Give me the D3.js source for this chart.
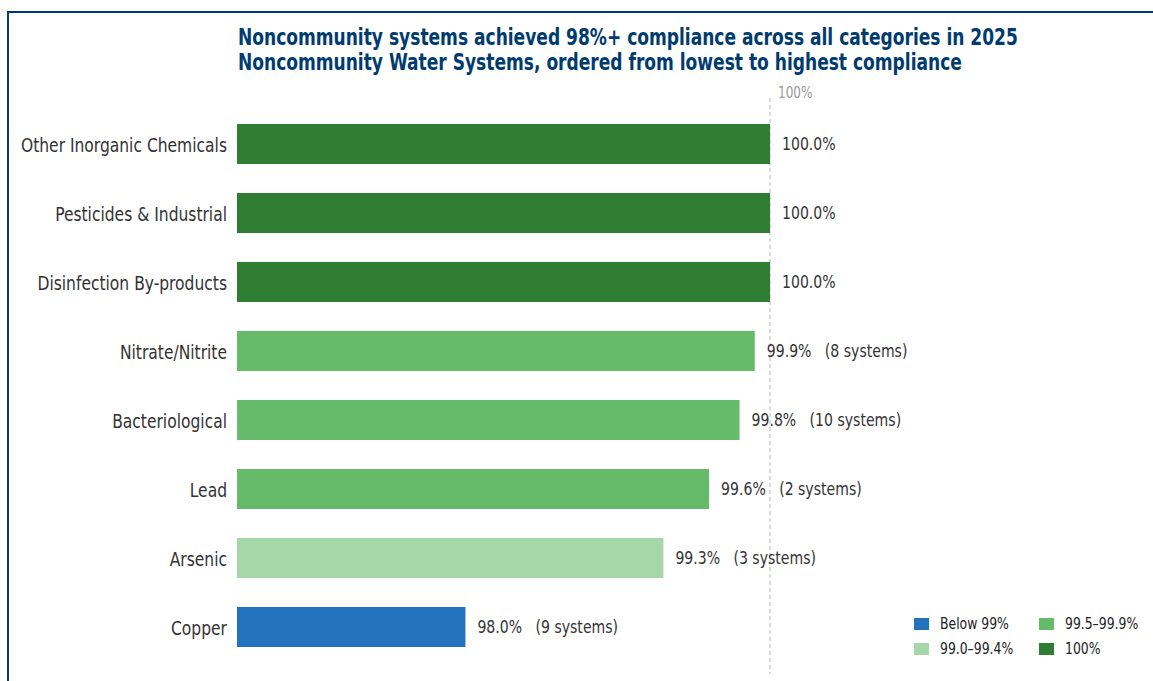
<!DOCTYPE html>
<html>
<head>
<meta charset="utf-8">
<script src="https://cdn.jsdelivr.net/npm/d3@7"></script>
<style>
  html, body { margin: 0; padding: 0; overflow: hidden; background: #fff; }
  .frame { position: absolute; left: 7px; top: 11px; width: 1300px; height: 900px; border: 2px solid #003b6f; box-sizing: border-box; }
  svg { position: absolute; left: 0; top: 0; }
  svg text { font-family: "DejaVu Sans Condensed", "DejaVu Sans", sans-serif; }
</style>
</head>
<body>
<div class="frame"></div>
<svg id="chart" width="1153" height="681"></svg>
<script>
// data, ordered top to bottom as drawn
const categories = ["Other Inorganic Chemicals", "Pesticides & Industrial", "Disinfection By-products",
  "Nitrate/Nitrite", "Bacteriological", "Lead", "Arsenic", "Copper"];
const compliance = [100.0, 100.0, 100.0, 99.9, 99.8, 99.6, 99.3, 98.0];
const violations = [0, 0, 0, 8, 10, 2, 3, 9];
const legendLabels = ["Below 99%", "99.0–99.4%", "99.5–99.9%", "100%"];
const legendColors = ["#2372be", "#a6d7a8", "#66bb6a", "#2e7d32"];

function colorFor(v) {
  if (v >= 100) return legendColors[3];
  if (v >= 99.5) return legendColors[2];
  if (v >= 99.0) return legendColors[1];
  return legendColors[0];
}

// the reference face is narrower still, so squeeze horizontally around the anchor x
function squeeze(sel, k) {
  sel.attr("transform", function () {
    const x0 = +this.getAttribute("x") || 0;
    return `translate(${x0 * (1 - k)},0) scale(${k},1)`;
  });
}

const svg = d3.select("#chart");

const x = d3.scaleLinear().domain([96.5, 100]).range([237, 770]);
const y = d3.scaleBand().domain(categories).range([109.5, 661.5]).paddingInner(0.42).paddingOuter(0.21);

// titles
const titles = svg.append("g").attr("fill", "#003b6f").attr("font-weight", "bold").attr("font-size", 23);
titles.append("text").attr("x", 238).attr("y", 45)
  .text("Noncommunity systems achieved 98%+ compliance across all categories in 2025");
titles.append("text").attr("x", 238).attr("y", 70)
  .text("Noncommunity Water Systems, ordered from lowest to highest compliance");
squeeze(titles.selectAll("text"), 0.825);

// 100% reference line
svg.append("line")
  .attr("x1", x(100)).attr("x2", x(100)).attr("y1", 98).attr("y2", 674)
  .attr("stroke", "#b5b5b5").attr("stroke-width", 1).attr("stroke-dasharray", "4,3");
svg.append("text").attr("x", x(100) + 8).attr("y", 98)
  .attr("fill", "#9a9a9a").attr("font-size", 15).text("100%")
  .call(squeeze, 0.895);

// bars
svg.append("g").selectAll("rect")
  .data(categories)
  .join("rect")
  .attr("x", x(96.5))
  .attr("y", d => y(d))
  .attr("width", (d, i) => x(compliance[i]) - x(96.5))
  .attr("height", y.bandwidth())
  .attr("fill", (d, i) => colorFor(compliance[i]));

// category labels
const yAxis = svg.append("g").attr("transform", "translate(237,0)")
  .call(d3.axisLeft(y).tickSize(0).tickPadding(10));
yAxis.select(".domain").remove();
yAxis.attr("font-family", null);
yAxis.selectAll("text").attr("font-size", 19.5).attr("fill", "#333").attr("dy", "0.4em");
squeeze(yAxis.selectAll("text"), 0.885);

// value labels
const values = svg.append("g").selectAll("text")
  .data(categories)
  .join("text")
  .attr("x", (d, i) => x(compliance[i]) + 12)
  .attr("y", d => y(d) + y.bandwidth() / 2)
  .attr("dy", "0.35em")
  .attr("font-size", 17).attr("fill", "#333")
  .style("white-space", "pre")
  .text((d, i) => compliance[i].toFixed(1) + "%" + (violations[i] > 0 ? "   (" + violations[i] + " systems)" : ""));
squeeze(values, 0.92);

// legend
const legend = svg.append("g").selectAll("g")
  .data(legendLabels)
  .join("g")
  .attr("transform", (d, i) => `translate(${914 + Math.floor(i / 2) * 125},${618 + (i % 2) * 25})`);
legend.append("rect").attr("width", 15).attr("height", 12).attr("fill", (d, i) => legendColors[i]);
legend.append("text").attr("x", 26).attr("y", 6).attr("dy", "0.35em")
  .attr("font-size", 15).attr("fill", "#222").text(d => d)
  .call(squeeze, 0.92);
</script>
</body>
</html>
